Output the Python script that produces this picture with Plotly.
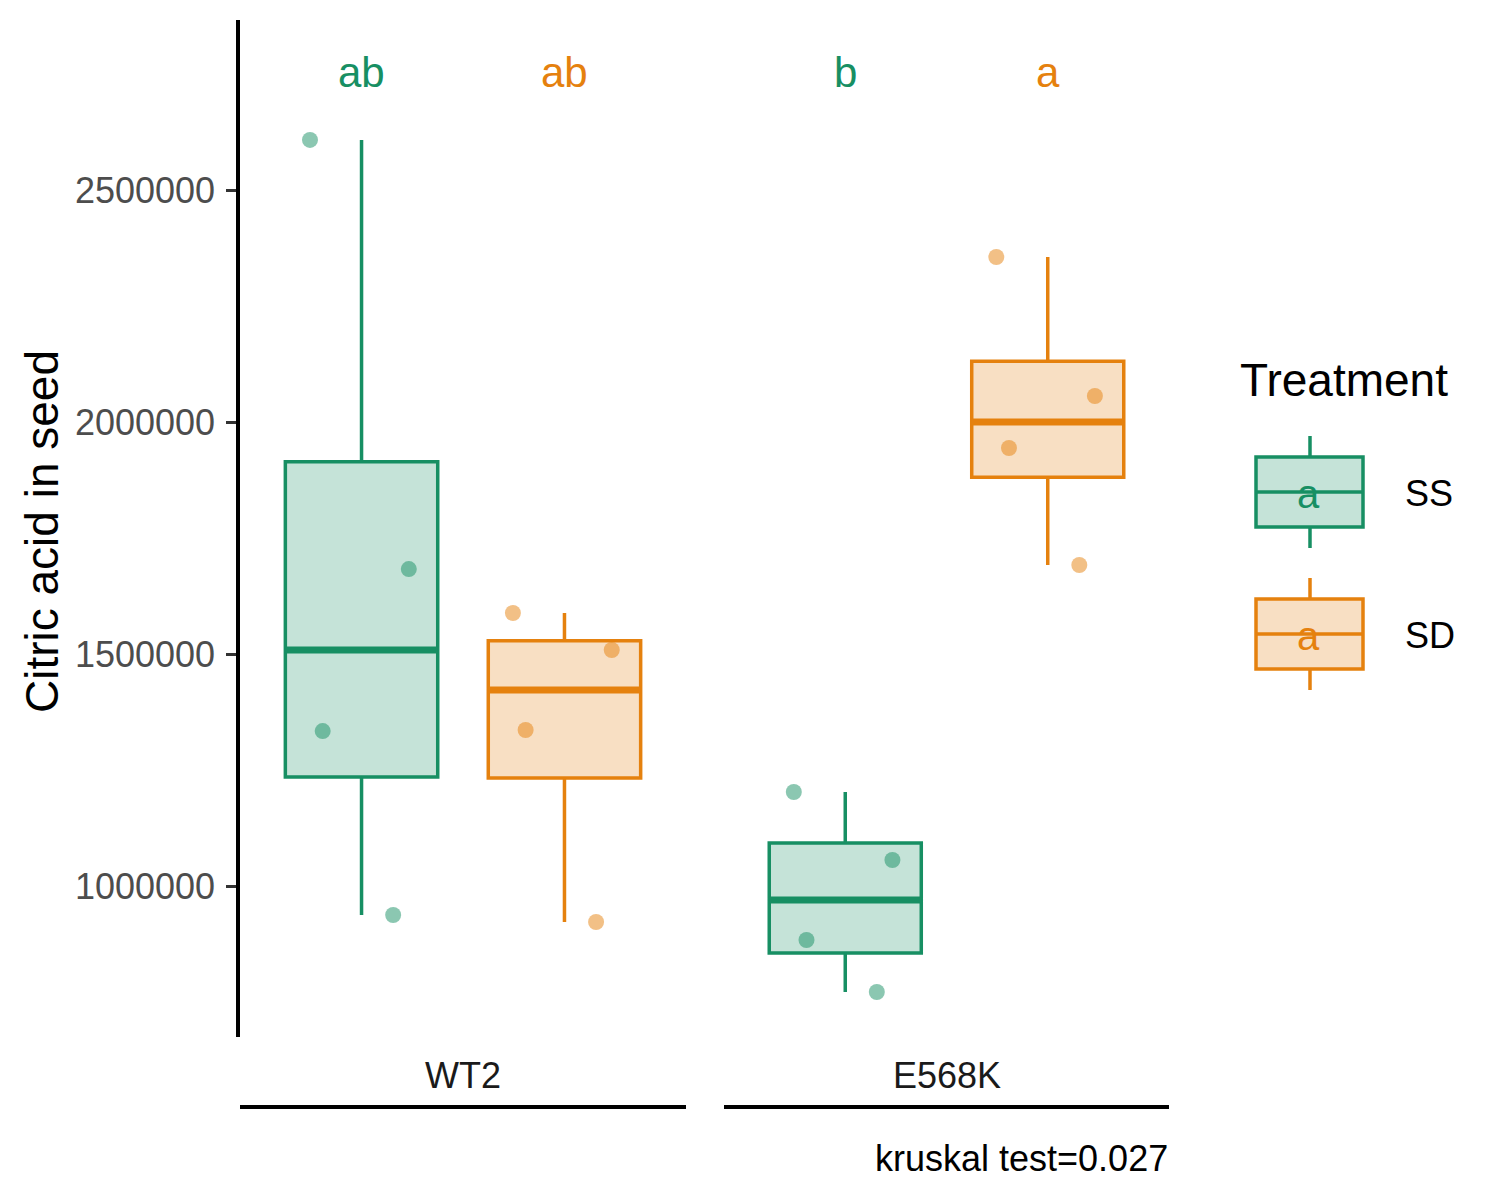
import numpy as np
import plotly.graph_objects as go

# ---------------- data ----------------
genotypes = ["WT2", "E568K"]
treatments = ["SS", "SD"]
wt2_ss = [2608000, 1683000, 1334000, 937500]
wt2_sd = [922400, 1508600, 1336200, 1588400]
e568k_ss = [1202600, 1056000, 883600, 771600]
e568k_sd = [1691800, 1944000, 2056000, 2355600]
letters_wt2 = ["ab", "ab"]
letters_e568k = ["b", "a"]
y_ticks = [1000000, 1500000, 2000000, 2500000]
caption = "kruskal test=0.027"

# ---------------- style ----------------
W, H = 1500, 1200
OFF = 8  # page body margin
FONT = "Liberation Sans, Arial, sans-serif"
COLORS = {"SS": "#178F63", "SD": "#E5810E"}
LW = 3.5


def rgba(hexc, a):
    h = hexc.lstrip("#")
    r, g, b = int(h[0:2], 16), int(h[2:4], 16), int(h[4:6], 16)
    return f"rgba({r},{g},{b},{a})"


def px_x(p):
    return (p - OFF) / W


def px_y(p):
    return 1 - (p - OFF) / H


DODGE = 0.273
BOX_W = 0.41
LABEL_Y = 2754000
Y_RANGE = [674600, 2866400]

panels = [
    ("x", genotypes[0], {"SS": wt2_ss, "SD": wt2_sd}, letters_wt2),
    ("x2", genotypes[1], {"SS": e568k_ss, "SD": e568k_sd}, letters_e568k),
]

fig = go.Figure()
annotations = []
shapes = []

for xa, geno, data, letters in panels:
    for j, tr in enumerate(treatments):
        vals = np.array(data[tr], dtype=float)
        pos = 1 + (DODGE if j == 1 else -DODGE)
        col = COLORS[tr]
        q1, med, q3 = np.percentile(vals, [25, 50, 75])
        iqr = q3 - q1
        lo = vals[vals >= q1 - 1.5 * iqr].min()
        hi = vals[vals <= q3 + 1.5 * iqr].max()
        fig.add_trace(go.Box(
            x=[pos], q1=[q1], median=[med], q3=[q3],
            lowerfence=[lo], upperfence=[hi], orientation="v",
            width=BOX_W, whiskerwidth=0, fillcolor=rgba(col, 0.25),
            line=dict(color=col, width=LW), boxpoints=False,
            xaxis=xa, yaxis="y", showlegend=False, hoverinfo="skip",
        ))
        fig.add_trace(go.Scatter(
            x=[pos - BOX_W / 2, pos + BOX_W / 2], y=[med, med],
            mode="lines", line=dict(color=col, width=7),
            xaxis=xa, yaxis="y", showlegend=False, hoverinfo="skip",
        ))
        fig.add_trace(go.Box(
            x=[pos] * len(vals), y=vals, boxpoints="all", jitter=0.8,
            pointpos=0, width=BOX_W, whiskerwidth=0,
            fillcolor="rgba(0,0,0,0)",
            line=dict(color="rgba(0,0,0,0)", width=0),
            marker=dict(color=rgba(col, 0.5), size=16, line=dict(width=0)),
            xaxis=xa, yaxis="y", showlegend=False, hoverinfo="y",
        ))
        annotations.append(dict(
            x=pos, y=LABEL_Y, xref=xa, yref="y", text=letters[j],
            showarrow=False, font=dict(family=FONT, size=42, color=col),
            xanchor="center", yanchor="middle",
        ))
    # strip label + line below
    annotations.append(dict(
        x=1, y=px_y(1075), xref=xa, yref="paper", text=geno, showarrow=False,
        font=dict(family=FONT, size=36, color="#1A1A1A"),
        xanchor="center", yanchor="middle",
    ))
    shapes.append(dict(
        type="line", xref=f"{xa} domain", yref="paper", x0=0, x1=1,
        y0=px_y(1107), y1=px_y(1107), line=dict(color="black", width=4),
    ))

# y title
annotations.append(dict(
    x=px_x(42), y=px_y(532), xref="paper", yref="paper",
    text="Citric acid in seed", textangle=-90, showarrow=False,
    font=dict(family=FONT, size=46, color="black"),
    xanchor="center", yanchor="middle",
))
# caption
annotations.append(dict(
    x=px_x(1170), y=px_y(1158), xref="paper", yref="paper", text=caption,
    showarrow=False, font=dict(family=FONT, size=36, color="black"),
    xanchor="right", yanchor="middle",
))

# manual legend
annotations.append(dict(
    x=px_x(1238), y=px_y(380), xref="paper", yref="paper", text="Treatment",
    showarrow=False, font=dict(family=FONT, size=46, color="black"),
    xanchor="left", yanchor="middle",
))
key_tops = {"SS": 436, "SD": 578}
for tr in treatments:
    col = COLORS[tr]
    t = key_tops[tr]
    x0, x1, xm = 1256, 1363, 1310
    shapes.append(dict(type="line", xref="paper", yref="paper",
                       x0=px_x(xm), x1=px_x(xm), y0=px_y(t), y1=px_y(t + 21),
                       line=dict(color=col, width=LW)))
    shapes.append(dict(type="line", xref="paper", yref="paper",
                       x0=px_x(xm), x1=px_x(xm), y0=px_y(t + 91), y1=px_y(t + 112),
                       line=dict(color=col, width=LW)))
    shapes.append(dict(type="rect", xref="paper", yref="paper",
                       x0=px_x(x0), x1=px_x(x1), y0=px_y(t + 91), y1=px_y(t + 21),
                       fillcolor=rgba(col, 0.25), line=dict(color=col, width=LW)))
    shapes.append(dict(type="line", xref="paper", yref="paper",
                       x0=px_x(x0), x1=px_x(x1), y0=px_y(t + 56), y1=px_y(t + 56),
                       line=dict(color=col, width=LW)))
    annotations.append(dict(
        x=px_x(1308), y=px_y(t + 58), xref="paper", yref="paper", text="a",
        showarrow=False, font=dict(family=FONT, size=40, color=col),
        xanchor="center", yanchor="middle",
    ))
    annotations.append(dict(
        x=px_x(1403), y=px_y(t + 57), xref="paper", yref="paper", text=tr,
        showarrow=False, font=dict(family=FONT, size=36, color="black"),
        xanchor="left", yanchor="middle",
    ))

xaxis_common = dict(range=[0.4, 1.6], showticklabels=False, showline=False,
                    zeroline=False, showgrid=False, ticks="", fixedrange=True)

fig.update_layout(
    width=W, height=H,
    margin=dict(l=0, r=0, t=0, b=0),
    paper_bgcolor="white", plot_bgcolor="white",
    font=dict(family=FONT),
    boxmode="overlay",
    xaxis=dict(domain=[px_x(240), px_x(686)], anchor="y", **xaxis_common),
    xaxis2=dict(domain=[px_x(724), px_x(1169)], anchor="y", **xaxis_common),
    yaxis=dict(
        domain=[px_y(1037), px_y(20)], range=Y_RANGE, anchor="x",
        tickvals=y_ticks, tickformat="d", ticks="outside", ticklen=10,
        tickwidth=3, tickcolor="#333333", showline=True, linecolor="black",
        linewidth=3.5, zeroline=False, showgrid=False, automargin=False,
        ticklabelstandoff=4,
        tickfont=dict(family=FONT, size=36, color="#4D4D4D"),
    ),
    annotations=annotations,
    shapes=shapes,
    showlegend=False,
)

fig.write_html("out.html")
